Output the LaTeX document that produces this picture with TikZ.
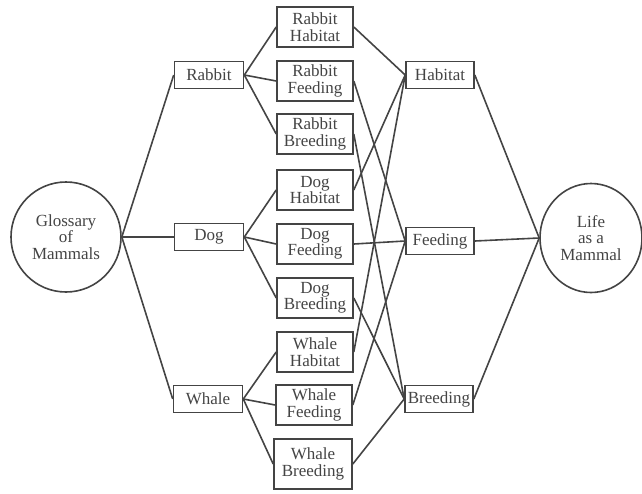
\documentclass[tikz,border=0pt]{standalone}
\usepackage{fontspec}
\setmainfont{Liberation Serif}
\usetikzlibrary{shapes.geometric}
\definecolor{ink}{HTML}{444444}
\begin{document}
\begin{tikzpicture}[x=1pt,y=-1pt,
  every node/.style={font=\fontsize{17}{16.5}\selectfont, text=ink},
  conn/.style={draw=ink, line width=1.6pt},
  topic/.style={draw=ink, line width=1.6pt, minimum width=69pt, minimum height=27pt, inner sep=0pt},
  sub/.style={draw=ink, line width=1.6pt, minimum width=76pt, minimum height=40pt, inner sep=0pt, align=center},
  hub/.style={draw=ink, line width=1.6pt, ellipse, inner sep=0pt, align=center}]
\useasboundingbox (0,0) rectangle (642,493);
% hubs
\node[hub, minimum width=110pt, minimum height=110pt] (gl) at (66,237) {Glossary\\of\\Mammals};
\node[hub, minimum width=102pt, minimum height=109pt] (life) at (591,238) {Life\\as a\\Mammal};
% topics
\node[topic] (rabbit) at (209,75) {Rabbit};
\node[topic] (dog) at (209,237) {Dog};
\node[topic] (whale) at (208,399) {Whale};
% subtopics
\node[sub] (rh) at (315,27) {Rabbit\\Habitat};
\node[sub] (rf) at (315,81) {Rabbit\\Feeding};
\node[sub] (rb) at (315,134) {Rabbit\\Breeding};
\node[sub] (dh) at (315,190) {Dog\\Habitat};
\node[sub] (df) at (315,244) {Dog\\Feeding};
\node[sub] (db) at (315,298) {Dog\\Breeding};
\node[sub] (wh) at (315,352) {Whale\\Habitat};
\node[sub] (wf) at (314,405) {Whale\\Feeding};
\node[sub, minimum width=78pt, minimum height=50pt] (wb) at (313,464) {Whale\\Breeding};
% aspects
\node[topic, minimum width=68pt] (hab) at (440,75) {Habitat};
\node[topic, minimum width=68pt] (feed) at (440,241) {Feeding};
\node[topic, minimum width=68pt] (breed) at (439,399) {Breeding};
% connectors
\foreach \t in {rabbit,dog,whale} \draw[conn] (gl.east) -- (\t.west);
\foreach \s in {rh,rf,rb} \draw[conn] (rabbit.east) -- (\s.west);
\foreach \s in {dh,df,db} \draw[conn] (dog.east) -- (\s.west);
\foreach \s in {wh,wf,wb} \draw[conn] (whale.east) -- (\s.west);
\foreach \s in {rh,dh,wh} \draw[conn] (\s.east) -- (hab.west);
\foreach \s in {rf,df,wf} \draw[conn] (\s.east) -- (feed.west);
\foreach \s in {rb,db,wb} \draw[conn] (\s.east) -- (breed.west);
\foreach \a in {hab,feed,breed} \draw[conn] (\a.east) -- (life.west);
\end{tikzpicture}
\end{document}
